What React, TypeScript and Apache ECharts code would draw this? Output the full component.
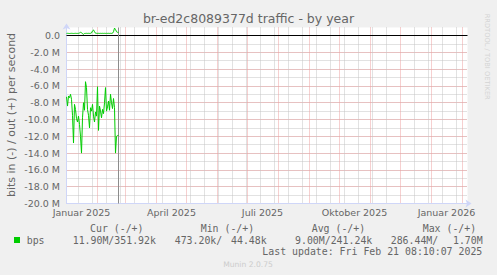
import React, { useEffect, useRef } from 'react';
import * as echarts from 'echarts';

// Days since 1 Jan 2025 (one point per day, yearly Munin resolution)
const days = [0, 1, 2, 3, 4, 5, 6, 7, 8, 9, 10, 11, 12, 13, 14, 15, 16, 17, 18, 19, 20, 21, 22, 23, 24, 25, 26, 27, 28, 29, 30, 31, 32, 33, 34, 35, 36, 37, 38, 39, 40, 41, 42, 43, 44, 45, 46, 47, 48, 49, 50, 51, 52];
// Incoming traffic (Mbit/s, drawn negative)
const inMbps = [-7.3, -8.4, -7.2, -7.4, -7.0, -7.6, -9.5, -12.8, -8.2, -8.8, -9.9, -10.3, -9.6, -10.6, -12.0, -14.0, -9.8, -8.0, -8.9, -5.5, -6.2, -8.8, -9.5, -11.0, -8.6, -9.0, -8.2, -9.6, -10.3, -9.1, -9.6, -6.1, -11.3, -8.4, -9.0, -9.8, -8.8, -9.3, -8.0, -6.2, -9.0, -8.5, -7.8, -8.9, -7.0, -8.0, -8.7, -7.5, -8.6, -14.0, -12.0, -11.9, -11.9];
// Outgoing traffic (Mbit/s, drawn positive)
const outMbps = [0.25, 0.26, 0.25, 0.24, 0.25, 0.26, 0.25, 0.24, 0.25, 0.26, 0.25, 0.25, 0.26, 0.30, 0.38, 0.34, 0.20, 0.14, 0.24, 0.25, 0.26, 0.25, 0.26, 0.25, 0.26, 0.30, 0.55, 0.66, 0.45, 0.27, 0.26, 0.25, 0.26, 0.25, 0.26, 0.25, 0.26, 0.25, 0.26, 0.25, 0.26, 0.25, 0.26, 0.25, 0.26, 0.25, 0.27, 0.45, 0.88, 0.72, 0.45, 0.38, 0.35];

// Axis / grid definitions
const xLabelDays = [15, 105, 196, 288, 380];
const xLabelTexts = ['Januar 2025', 'April 2025', 'Juli 2025', 'Oktober 2025', 'Januar 2026'];
const monthStartDays = [31, 59, 90, 120, 151, 181, 212, 243, 273, 304, 334, 365, 396];
const biweeklyDays = [12, 26, 40, 54, 68, 82, 96, 110, 124, 138, 152, 166, 180, 194, 208, 222, 236, 250, 264, 278, 292, 306, 320, 348, 362, 376, 390];
const nowDay = 52.2;
const xMax = 401;
const yMin = -20;
const yMax = 0.9524;
const yMajorStep = 2;
const yMinorStep = 1;

// Legend texts
const legendHeaders = ['Cur (-/+)', 'Min (-/+)', 'Avg (-/+)', 'Max (-/+)'];
const legendName = 'bps';
const curText = '11.90M/351.92k';
const minIn = '473.20k/';
const minOut = '44.48k';
const avgText = '9.00M/241.24k';
const maxIn = '286.44M/';
const maxOut = '1.70M';
const lastUpdate = 'Last update: Fri Feb 21 08:10:07 2025';

const FONT = '#666666';
const AXIS = '#CFD6F8';
const GREEN = '#00CC00';
const GRID_MINOR = '#C4C4C4';
const GRID_MAJOR = '#EDA0A0';
const MONO = "'DejaVu Sans Mono', monospace";
const SANS = "'DejaVu Sans', sans-serif";

function buildOption() {
  const labelMap: Record<number, string> = {};
  xLabelDays.forEach((d, i) => (labelMap[d] = xLabelTexts[i]));
  const monoStyle = (text: string, x: number, y: number, align = 'left') => ({
    type: 'text',
    x,
    y,
    silent: true,
    style: {
      text,
      fill: FONT,
      font: `9.9px ${MONO}`,
      textAlign: align,
      textVerticalAlign: 'middle',
    },
  });
  const headerX = [90, 200.7, 311.7, 422.7];
  const vLine = (color: string) => ({
    silent: true,
    symbol: 'none',
    label: { show: false },
    emphasis: { disabled: true },
    lineStyle: { color, type: [1, 1], dashOffset: 0.5, width: 1 },
  });
  return {
    animation: false,
    backgroundColor: '#F0F0F0',
    textStyle: { fontFamily: SANS },
    title: {
      text: 'br-ed2c8089377d traffic - by year',
      left: 'center',
      top: 12,
      padding: 0,
      textStyle: { fontSize: 12.5, fontWeight: 'normal', color: FONT, fontFamily: SANS },
    },
    grid: {
      left: 66.5,
      right: 29.5,
      top: 27.5,
      bottom: 71.5,
      show: true,
      backgroundColor: '#FFFFFF',
      borderWidth: 0,
    },
    xAxis: {
      type: 'value',
      min: 0,
      max: xMax,
      axisLine: {
        show: true,
        onZero: false,
        lineStyle: { color: AXIS, width: 1 },
        symbol: ['none', 'arrow'],
        symbolSize: [6, 6],
        symbolOffset: [0, 4],
      },
      axisTick: { show: false },
      splitLine: { show: false },
      axisLabel: {
        customValues: xLabelDays,
        formatter: (v: number) => labelMap[v] || '',
        color: FONT,
        fontSize: 9.5,
        fontFamily: SANS,
        margin: 4,
        hideOverlap: false,
      },
    },
    yAxis: [
      {
        type: 'value',
        min: yMin,
        max: yMax,
        interval: yMajorStep,
        z: 3,
        axisLine: {
          show: true,
          onZero: false,
          lineStyle: { color: AXIS, width: 1 },
          symbol: ['none', 'arrow'],
          symbolSize: [6, 6],
          symbolOffset: [0, 4],
        },
        axisTick: { show: false },
        splitLine: {
          show: true,
          showMinLine: false,
          showMaxLine: false,
          lineStyle: { color: GRID_MAJOR, type: [1, 1], dashOffset: 0.5, width: 1 },
        },
        axisLabel: {
          formatter: (v: number) => (v > 0 ? '' : v === 0 ? '0.0' : `${v.toFixed(1)} M`),
          color: FONT,
          fontSize: 9.5,
          fontFamily: SANS,
          margin: 6.5,
          showMaxLabel: false,
        },
      },
      {
        type: 'value',
        min: yMin,
        max: yMax,
        interval: yMinorStep,
        position: 'left',
        z: 1,
        axisLine: { show: false },
        axisTick: { show: false },
        axisLabel: { show: false },
        splitLine: {
          show: true,
          showMinLine: false,
          showMaxLine: false,
          lineStyle: { color: GRID_MINOR, type: [1, 1], dashOffset: 0.5, width: 1 },
        },
      },
    ],
    series: [
      {
        type: 'line',
        name: 'minorGridX',
        data: [],
        z: 1,
        silent: true,
        markLine: { ...vLine(GRID_MINOR), data: biweeklyDays.map((d) => ({ xAxis: d })) },
      },
      {
        type: 'line',
        name: 'majorGridX',
        data: [],
        z: 2,
        silent: true,
        markLine: { ...vLine(GRID_MAJOR), data: monthStartDays.map((d) => ({ xAxis: d })) },
      },
      {
        type: 'line',
        name: 'rules',
        data: [],
        z: 3,
        silent: true,
        markLine: {
          silent: true,
          symbol: 'none',
          label: { show: false },
          emphasis: { disabled: true },
          data: [
            { yAxis: 0, lineStyle: { color: '#000000', width: 1, type: 'solid' } },
            { xAxis: nowDay, lineStyle: { color: '#8C8C8C', width: 1, type: 'solid' } },
          ],
        },
      },
      {
        type: 'line',
        name: 'bps in',
        data: days.map((d, i) => [d, inMbps[i]]),
        showSymbol: false,
        z: 5,
        lineStyle: { color: GREEN, width: 1 },
        itemStyle: { color: GREEN },
      },
      {
        type: 'line',
        name: 'bps out',
        data: days.map((d, i) => [d, outMbps[i]]),
        showSymbol: false,
        z: 5,
        lineStyle: { color: GREEN, width: 1 },
        itemStyle: { color: GREEN },
      },
    ],
    graphic: [
      {
        type: 'text',
        x: 11,
        y: 115,
        rotation: Math.PI / 2,
        silent: true,
        style: {
          text: 'bits in (-) / out (+) per second',
          fill: FONT,
          font: `11px ${SANS}`,
          textAlign: 'center',
          textVerticalAlign: 'middle',
        },
      },
      {
        type: 'text',
        x: 486.7,
        y: 56.7,
        rotation: -Math.PI / 2,
        silent: true,
        style: {
          text: 'RRDTOOL / TOBI OETIKER',
          fill: '#D4D4D4',
          font: `6.7px ${SANS}`,
          textAlign: 'center',
          textVerticalAlign: 'middle',
        },
      },
      ...legendHeaders.map((h, i) => monoStyle(h, headerX[i], 228.3)),
      {
        type: 'rect',
        silent: true,
        shape: { x: 14, y: 237, width: 6, height: 6 },
        style: { fill: GREEN },
      },
      monoStyle(legendName, 26.7, 240),
      monoStyle(curText, 72.7, 240),
      monoStyle(minIn, 174.7, 240),
      monoStyle(minOut, 266.7, 240, 'right'),
      monoStyle(avgText, 295, 240),
      monoStyle(maxIn, 390.7, 240),
      monoStyle(maxOut, 482.7, 240, 'right'),
      monoStyle(lastUpdate, 482.3, 251.3, 'right'),
      {
        type: 'text',
        x: 248,
        y: 264.3,
        silent: true,
        style: {
          text: 'Munin 2.0.75',
          fill: '#CCCCCC',
          font: `7.6px ${SANS}`,
          textAlign: 'center',
          textVerticalAlign: 'middle',
        },
      },
    ],
  };
}

export default function App() {
  const ref = useRef<HTMLDivElement>(null);
  useEffect(() => {
    if (!ref.current) return;
    const chart = echarts.init(ref.current, null, { renderer: 'svg' });
    chart.setOption(buildOption() as any);
    return () => chart.dispose();
  }, []);
  return (
    <div
      ref={ref}
      style={{ position: 'absolute', left: 0, top: 0, width: 497, height: 275 }}
    />
  );
}
